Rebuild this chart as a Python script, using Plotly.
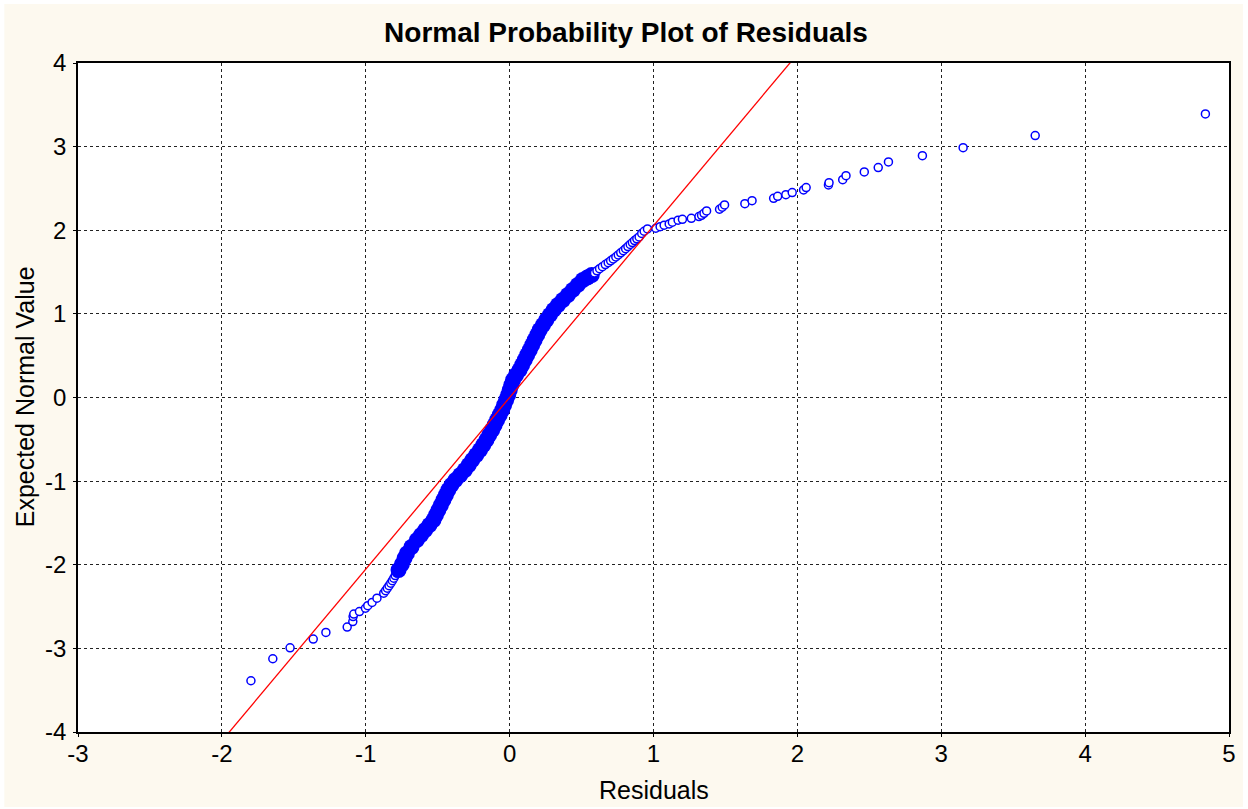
import plotly.graph_objects as go

# Lower tail: residuals and their expected normal values (individually visible points)
low_res = [-1.798, -1.646, -1.526, -1.365, -1.277, -1.129, -1.090, -1.088, -1.083,
           -1.044, -1.002, -0.986, -0.956, -0.922, -0.875, -0.862, -0.850, -0.838,
           -0.826, -0.815, -0.805, -0.795, -0.785]
low_exp = [-3.387, -3.124, -2.993, -2.889, -2.809, -2.745, -2.680, -2.620, -2.590,
           -2.560, -2.520, -2.490, -2.450, -2.400, -2.340, -2.310, -2.280, -2.250,
           -2.220, -2.190, -2.160, -2.130, -2.100]

# Central body, where the points overlap into a solid band
band_res = [-0.772, -0.749, -0.730, -0.714, -0.682, -0.645, -0.616, -0.587, -0.557, -0.529,
            -0.512, -0.495, -0.478, -0.460, -0.443, -0.426, -0.405, -0.377, -0.343, -0.311,
            -0.284, -0.260, -0.232, -0.206, -0.183, -0.161, -0.142, -0.121, -0.104, -0.087,
            -0.069, -0.052, -0.038, -0.024, -0.010, 0.001, 0.012, 0.024, 0.045, 0.069,
            0.087, 0.105, 0.122, 0.140, 0.157, 0.174, 0.192, 0.209, 0.232, 0.255,
            0.280, 0.306, 0.336, 0.370, 0.405, 0.439, 0.474, 0.509, 0.540, 0.571]
band_exp = [-2.063, -1.995, -1.920, -1.864, -1.788, -1.705, -1.645, -1.585, -1.525, -1.465,
            -1.406, -1.346, -1.286, -1.226, -1.166, -1.106, -1.047, -0.987, -0.927, -0.867,
            -0.807, -0.748, -0.688, -0.628, -0.568, -0.508, -0.449, -0.389, -0.329, -0.269,
            -0.209, -0.150, -0.090, -0.030, 0.030, 0.090, 0.150, 0.209, 0.269, 0.329,
            0.389, 0.449, 0.508, 0.568, 0.628, 0.688, 0.748, 0.807, 0.867, 0.927,
            0.987, 1.047, 1.106, 1.166, 1.226, 1.286, 1.346, 1.405, 1.435, 1.465]

# Upper tail
high_res = [0.590, 0.607, 0.625, 0.645, 0.665, 0.685, 0.702, 0.720, 0.738, 0.755,
            0.772, 0.790, 0.806, 0.822, 0.838, 0.853, 0.868, 0.884, 0.900, 0.918,
            0.935, 0.958, 1.016, 1.046, 1.074, 1.109, 1.131, 1.171, 1.201, 1.263,
            1.316, 1.334, 1.351, 1.369, 1.459, 1.478, 1.494, 1.635, 1.685, 1.835,
            1.863, 1.920, 1.964, 2.043, 2.061, 2.216, 2.220, 2.315, 2.338, 2.465,
            2.562, 2.633, 2.869, 3.152, 3.653, 4.836]
high_exp = [1.490, 1.515, 1.540, 1.565, 1.590, 1.612, 1.635, 1.657, 1.680, 1.705,
            1.730, 1.755, 1.780, 1.805, 1.830, 1.853, 1.876, 1.898, 1.920, 1.962,
            1.988, 2.016, 2.024, 2.043, 2.060, 2.075, 2.096, 2.120, 2.131, 2.143,
            2.163, 2.179, 2.203, 2.231, 2.251, 2.275, 2.303, 2.318, 2.354, 2.382,
            2.406, 2.426, 2.450, 2.482, 2.510, 2.542, 2.569, 2.605, 2.653, 2.697,
            2.749, 2.817, 2.892, 2.988, 3.132, 3.391]

# Reference normal line: expected = intercept + slope * residual
fit_intercept = 0.0
fit_slope = 2.053
fit_res = [-2.2, 2.2]

x_ticks = [-3, -2, -1, 0, 1, 2, 3, 4, 5]
y_ticks = [-4, -3, -2, -1, 0, 1, 2, 3, 4]

W, H = 1248, 809
ML, MR, MT, MB = 78, 14, 63, 77
PW, PH = W - ML - MR, H - MT - MB

FONT = "Liberation Sans, Arial, sans-serif"
BLUE = "#0000FF"

open_marker = dict(symbol="circle", size=8, color="white", line=dict(color=BLUE, width=1.5))

fig = go.Figure()
fig.add_trace(go.Scatter(x=low_res, y=low_exp, mode="markers", marker=open_marker,
                         showlegend=False, hoverinfo="x+y"))
fig.add_trace(go.Scatter(x=band_res, y=band_exp, mode="markers",
                         marker=dict(symbol="circle", size=16, color=BLUE, line=dict(width=0)),
                         showlegend=False, hoverinfo="x+y"))
fig.add_trace(go.Scatter(x=high_res, y=high_exp, mode="markers", marker=open_marker,
                         showlegend=False, hoverinfo="x+y"))
fig.add_trace(go.Scatter(x=fit_res, y=[fit_intercept + fit_slope * v for v in fit_res],
                         mode="lines", line=dict(color="#FF0000", width=1.3),
                         showlegend=False, hoverinfo="skip"))

axis_common = dict(
    showgrid=True, gridcolor="#222222", griddash="dot", gridwidth=1,
    zeroline=False, showline=True, linecolor="black", linewidth=1.5, mirror=True,
    ticks="outside", ticklen=3, tickcolor="black",
    tickfont=dict(family=FONT, size=24, color="black"),
)

fig.update_xaxes(range=[-3, 5], tickvals=x_ticks, ticktext=[str(v) for v in x_ticks],
                 ticklabelstandoff=-4, **axis_common)
fig.update_yaxes(range=[-4, 4], tickvals=y_ticks, ticktext=[str(v) for v in y_ticks],
                 ticklabelstandoff=2, **axis_common)

def px_to_paper_x(px):
    return (px - ML) / PW

def px_to_paper_y(py):
    return (H - MB - py) / PH

fig.update_layout(
    width=W, height=H,
    margin=dict(l=ML, r=MR, t=MT, b=MB),
    paper_bgcolor="white", plot_bgcolor="white",
    title=dict(text="<b>Normal Probability Plot of Residuals</b>",
               font=dict(family=FONT, size=28, color="black"),
               x=626 / W, xanchor="center", xref="container",
               y=1 - 32 / H, yanchor="middle", yref="container"),
    shapes=[
        dict(type="rect", xref="paper", yref="paper", layer="below",
             x0=px_to_paper_x(4), x1=px_to_paper_x(W), y0=px_to_paper_y(807), y1=px_to_paper_y(4),
             fillcolor="#FDF9EF", line=dict(width=0)),
        dict(type="rect", xref="paper", yref="paper", layer="below",
             x0=0, x1=1, y0=0, y1=1, fillcolor="white", line=dict(width=0)),
    ],
    annotations=[
        dict(text="Residuals", xref="paper", yref="paper", x=px_to_paper_x(656),
             y=px_to_paper_y(790), xanchor="center", yanchor="middle", showarrow=False,
             font=dict(family=FONT, size=25, color="black")),
        dict(text="Expected Normal Value", xref="paper", yref="paper", x=px_to_paper_x(25),
             y=px_to_paper_y(397), xanchor="center", yanchor="middle", showarrow=False,
             textangle=-90, font=dict(family=FONT, size=25, color="black")),
    ],
)

fig.write_html("out.html")
